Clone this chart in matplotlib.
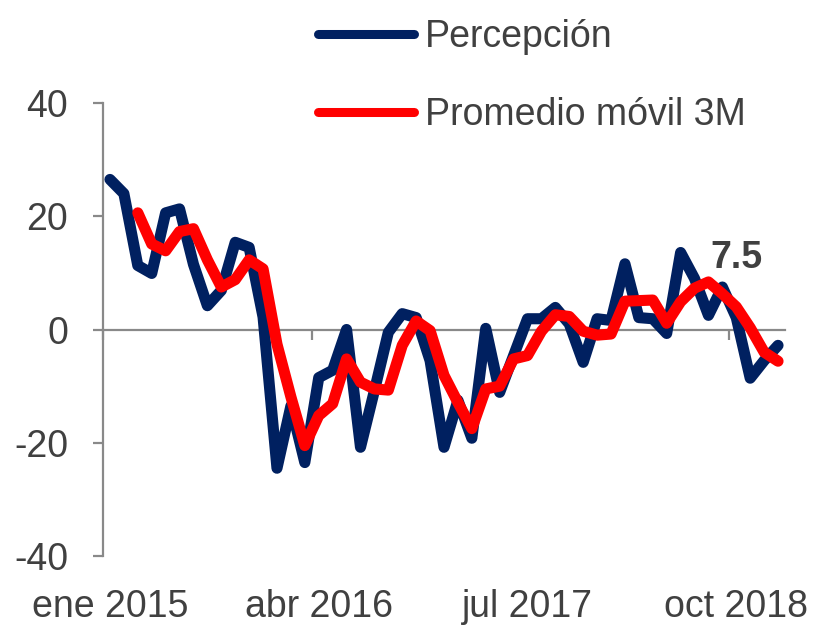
"""plot.py - percepcion mensual y su promedio movil de 3 meses"""

import numpy as np
import matplotlib
matplotlib.use("Agg")
import matplotlib.pyplot as plt
import matplotlib.transforms as mtransforms

plt.rcParams['font.family'] = ['Liberation Sans', 'DejaVu Sans']

# Datos mensuales, ene 2015 - ene 2019
percepcion = [26.5, 24.0, 11.3, 9.9, 20.6, 21.3, 11.5, 4.2, 6.9, 15.4,
              14.5, 2.2, -24.5, -13.5, -23.5, -8.5, -7.2, 0.0, -20.8, -10.8,
              -0.5, 2.8, 2.1, -5.5, -20.8, -12.5, -19.2, 0.2, -11.1, -4.6,
              1.9, 1.9, 3.9, 1.0, -5.8, 1.9, 1.6, 11.6, 2.1, 1.9,
              -0.7, 13.6, 9.0, 2.5, 7.5, 2.1, -8.6, -5.5, -2.8]
promedio_3m = [np.nan, np.nan, 20.6, 15.1, 13.9, 17.3, 17.8, 12.3, 7.5, 8.8,
               12.3, 10.7, -2.6, -11.9, -20.5, -15.2, -13.1, -5.2, -9.3, -10.5,
               -10.7, -2.8, 1.5, -0.2, -8.1, -12.9, -17.5, -10.5, -10.0, -5.2,
               -4.6, -0.3, 2.6, 2.3, -0.3, -1.0, -0.8, 5.0, 5.1, 5.2,
               1.1, 4.9, 7.3, 8.4, 6.3, 4.0, 0.3, -4.0, -5.6]
etiquetas_x = ['ene 2015', 'abr 2016', 'jul 2017', 'oct 2018']
pos_etiquetas = [0, 15, 30, 45]
yticks = [-40, -20, 0, 20, 40]
dato_destacado = '7.5'

azul = '#002060'
rojo = '#FF0000'
gris = '#898989'
texto = '#404040'

x = np.arange(len(percepcion))

fig = plt.figure(figsize=(8.21, 6.25), dpi=100)
ax = fig.add_axes([103 / 821, 1 - 556 / 625, 682 / 821, 453 / 625])

ax.plot(x, percepcion, color=azul, lw=8, label='Percepción',
        solid_capstyle='round', solid_joinstyle='round', zorder=3)
ax.plot(x, promedio_3m, color=rojo, lw=8, label='Promedio móvil 3M',
        solid_capstyle='round', solid_joinstyle='round', zorder=4)

ax.set_xlim(-0.5, len(percepcion) - 0.5)
ax.set_ylim(-40, 40)

# ejes: vertical a la izquierda, horizontal en cero
for s in ['top', 'right']:
    ax.spines[s].set_visible(False)
ax.spines['left'].set_color(gris)
ax.spines['left'].set_linewidth(1.6)
ax.spines['bottom'].set_position(('data', 0))
ax.spines['bottom'].set_color(gris)
ax.spines['bottom'].set_linewidth(1.6)
ax.spines['bottom'].set_zorder(1)

ax.set_yticks(yticks)
ax.set_yticklabels([str(v) for v in yticks])
ax.tick_params(axis='y', length=7, width=1.6, color=gris, pad=18,
               labelsize=27, labelcolor=texto)

ax.set_xticks([p - 0.5 for p in [0, 15, 30, 45]])
ax.set_xticklabels([])
ax.tick_params(axis='x', length=7, width=1.6, color=gris, direction='out')

# etiquetas del eje x abajo del grafico
trans = mtransforms.blended_transform_factory(ax.transData, ax.transAxes)
for p, lab in zip(pos_etiquetas, etiquetas_x):
    ax.text(p, -0.073, lab, transform=trans, ha='center', va='top',
            fontsize=27, color=texto)

ax.text(45, 12.6, dato_destacado, ha='center', va='center', fontsize=27,
        fontweight='bold', color=texto)

leg = fig.legend(loc='upper left', bbox_to_anchor=(318 / 821, 1 - 19 / 625),
                 frameon=False, fontsize=27, handlelength=2.55,
                 handletextpad=0.3, labelspacing=1.12, borderpad=0,
                 borderaxespad=0)
for t in leg.get_texts():
    t.set_color(texto)
for h in leg.legend_handles:
    h.set_solid_capstyle('round')
    h.set_linewidth(6.5)

fig.savefig('out.png', dpi=100)
